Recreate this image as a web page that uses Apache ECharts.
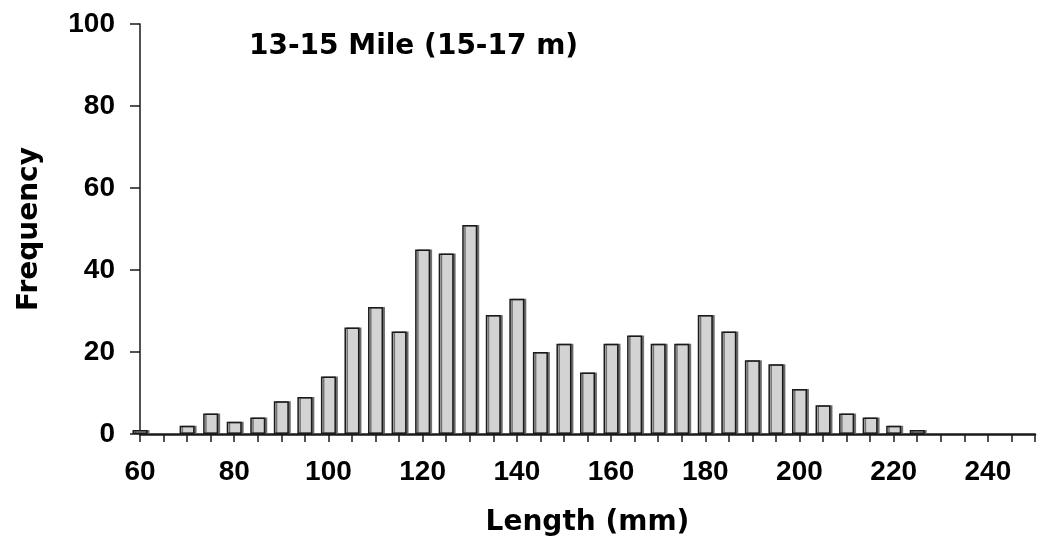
<!DOCTYPE html>
<html>
<head>
<meta charset="utf-8">
<style>
  html, body { margin: 0; padding: 0; background: #ffffff; }
  #chart { width: 1038px; height: 546px; }
</style>
<script src="https://cdn.jsdelivr.net/npm/echarts@6/dist/echarts.min.js"></script>
</head>
<body>
<div id="chart"></div>
<script>
// Length classes (mm) and frequencies
var lengths = [60, 65, 70, 75, 80, 85, 90, 95, 100, 105, 110, 115, 120, 125, 130, 135, 140, 145, 150, 155, 160, 165, 170, 175, 180, 185, 190, 195, 200, 205, 210, 215, 220, 225, 230, 235, 240, 245, 250];
var frequency = [1, 0, 2, 5, 3, 4, 8, 9, 14, 26, 31, 25, 45, 44, 51, 29, 33, 20, 22, 15, 22, 24, 22, 22, 29, 25, 18, 17, 11, 7, 5, 4, 2, 1, 0, 0, 0, 0, 0];
var chartTitle = '13-15 Mile (15-17 m)';
var xAxisTitle = 'Length (mm)';
var yAxisTitle = 'Frequency';

var seriesData = lengths.map(function (l, i) {
  var item = { value: [l, frequency[i]] };
  if (frequency[i] === 0) {
    item.itemStyle = { borderWidth: 0, shadowColor: 'transparent', color: 'transparent' };
  }
  return item;
});

var chart = echarts.init(document.getElementById('chart'), null, { renderer: 'canvas' });
var labelFont = { fontFamily: 'Liberation Sans', fontWeight: 'bold', fontSize: 28, color: '#000' };
var titleFont = 'DejaVu Sans';

chart.setOption({
  animation: false,
  backgroundColor: '#ffffff',
  title: {
    text: chartTitle,
    left: 249,
    top: 33,
    padding: 0,
    textStyle: { fontFamily: titleFont, fontWeight: 'bold', fontSize: 28, color: '#000' }
  },
  grid: { left: 140, right: 0, top: 24, bottom: 112, containLabel: false },
  xAxis: {
    type: 'value',
    min: 60,
    max: 250,
    interval: 5,
    name: xAxisTitle,
    nameLocation: 'middle',
    nameGap: 75,
    nameTextStyle: { fontFamily: titleFont, fontWeight: 'bold', fontSize: 28, color: '#000' },
    axisLine: { show: true, onZero: false, lineStyle: { color: '#1a1a1a', width: 2.5 } },
    axisTick: { show: true, length: 8, lineStyle: { color: '#1a1a1a', width: 1.5 } },
    axisLabel: Object.assign({
      margin: 24,
      showMaxLabel: true,
      formatter: function (v) { return (v % 20 === 0 && v <= 240) ? String(v) : ''; }
    }, labelFont),
    splitLine: { show: false }
  },
  yAxis: {
    type: 'value',
    min: 0,
    max: 100,
    interval: 20,
    name: yAxisTitle,
    nameLocation: 'middle',
    nameRotate: 90,
    nameGap: 96,
    nameTextStyle: { fontFamily: titleFont, fontWeight: 'bold', fontSize: 28, color: '#000' },
    axisLine: { show: true, lineStyle: { color: '#1a1a1a', width: 1.5 } },
    axisTick: { show: true, length: 10, lineStyle: { color: '#1a1a1a', width: 1.5 } },
    axisLabel: Object.assign({ margin: 25 }, labelFont),
    splitLine: { show: false }
  },
  series: [{
    type: 'bar',
    data: seriesData,
    barWidth: 15,
    clip: true,
    itemStyle: {
      color: '#d3d3d3',
      borderColor: '#1a1a1a',
      borderWidth: 1.5,
      shadowColor: 'rgba(90,90,90,0.8)',
      shadowOffsetX: 2,
      shadowOffsetY: 0,
      shadowBlur: 0
    },
    emphasis: { disabled: true }
  }]
});
</script>
</body>
</html>
